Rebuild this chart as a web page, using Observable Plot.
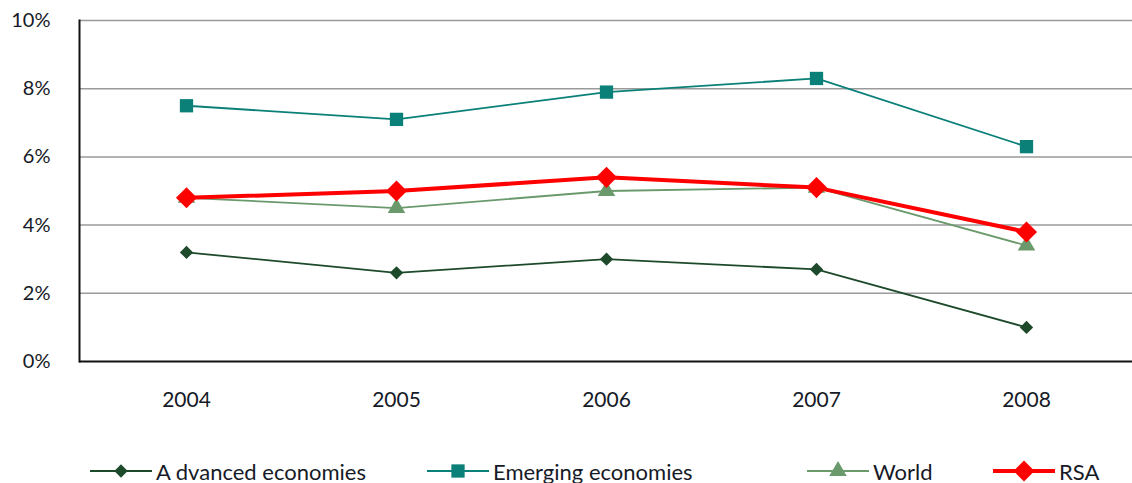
<!DOCTYPE html>
<html>
<head>
<meta charset="utf-8">
<script src="https://cdn.jsdelivr.net/npm/d3@7"></script>
<script src="https://cdn.jsdelivr.net/npm/@observablehq/plot@0.6"></script>
<style>
  body { margin: 0; background: #fff; font-family: Lato, "Open Sans", sans-serif; }
  #wrap { position: relative; width: 1132px; height: 483px; }
  #legend { position: absolute; left: 0; top: 457px; width: 1132px; height: 28px; }
  .item { position: absolute; top: 0; display: flex; align-items: center; font-size: 22px; color: #161a26; }
  .item svg { display: block; margin-right: 4px; }
</style>
</head>
<body>
<div id="wrap">
  <div id="chart"></div>
  <div id="legend"></div>
</div>
<script>
// Real GDP growth, 2004–2008 (%)
const years = ["2004", "2005", "2006", "2007", "2008"];
const advanced = [3.2, 2.6, 3.0, 2.7, 1.0];
const emerging = [7.5, 7.1, 7.9, 8.3, 6.3];
const world = [4.8, 4.5, 5.0, 5.1, 3.4];
const rsa = [4.8, 5.0, 5.4, 5.1, 3.8];
const yTicks = [0, 2, 4, 6, 8, 10];

const seriesDefs = [
  {name: "A dvanced economies", values: advanced, color: "#1e4a2c", width: 1.8, symbol: "diamond2", r: 6},
  {name: "Emerging economies", values: emerging, color: "#0b8078", width: 1.8, symbol: "square", r: 7.5},
  {name: "World", values: world, color: "#6a9a6c", width: 1.8, symbol: "triangle", r: 6.5},
  {name: "RSA", values: rsa, color: "#ff0000", width: 4, symbol: "diamond2", r: 9.5}
];

const rows = seriesDefs.flatMap(s => years.map((y, i) => ({series: s.name, year: y, value: s.values[i]})));

const marks = [
  Plot.ruleY(yTicks.filter(d => d > 0), {stroke: "#9a9a9a", strokeWidth: 1.5}),
  Plot.axisY(yTicks, {tickSize: 0, tickPadding: 29, tickFormat: d => d + "%", fontSize: 20, fill: "#161a26"}),
  Plot.axisX({tickSize: 0, tickPadding: 31, fontSize: 21, fill: "#161a26"})
];
for (const s of seriesDefs) {
  const data = rows.filter(d => d.series === s.name);
  marks.push(Plot.line(data, {x: "year", y: "value", stroke: s.color, strokeWidth: s.width}));
  marks.push(Plot.dot(data, {x: "year", y: "value", symbol: () => s.symbol, fill: s.color, r: s.r, stroke: "none"}));
}
// bottom axis line
marks.push(Plot.ruleY([0], {stroke: "#111", strokeWidth: 2}));

const chart = Plot.plot({
  width: 1132,
  height: 445,
  marginLeft: 79,
  marginRight: 0,
  marginTop: 20,
  marginBottom: 84,
  style: {fontFamily: "Lato, 'Open Sans', sans-serif", background: "#fff"},
  x: {type: "point", domain: years, padding: 0.5, label: null},
  y: {domain: [0, 10], label: null},
  symbol: {type: "identity"},
  marks: [
    ...marks,
    Plot.frame({anchor: "left", stroke: "#111", strokeWidth: 2})
  ]
});
document.getElementById("chart").appendChild(chart);

// Legend row below the chart
const legendPos = [90, 427, 807, 993];
const legend = document.getElementById("legend");
seriesDefs.forEach((s, i) => {
  const item = document.createElement("div");
  item.className = "item";
  item.style.left = legendPos[i] + "px";
  const w = 62, h = 28, cx = w / 2, cy = h / 2;
  const type = s.symbol === "diamond2" ? d3.symbolDiamond2 : s.symbol === "square" ? d3.symbolSquare : d3.symbolTriangle;
  const sym = d3.symbol(type, Math.PI * s.r * s.r)();
  item.innerHTML = `<svg width="${w}" height="${h}"><line x1="0" x2="${w}" y1="${cy}" y2="${cy}" stroke="${s.color}" stroke-width="${s.width}"/><path d="${sym}" transform="translate(${cx},${cy})" fill="${s.color}"/></svg><span>${s.name}</span>`;
  legend.appendChild(item);
});
</script>
</body>
</html>
